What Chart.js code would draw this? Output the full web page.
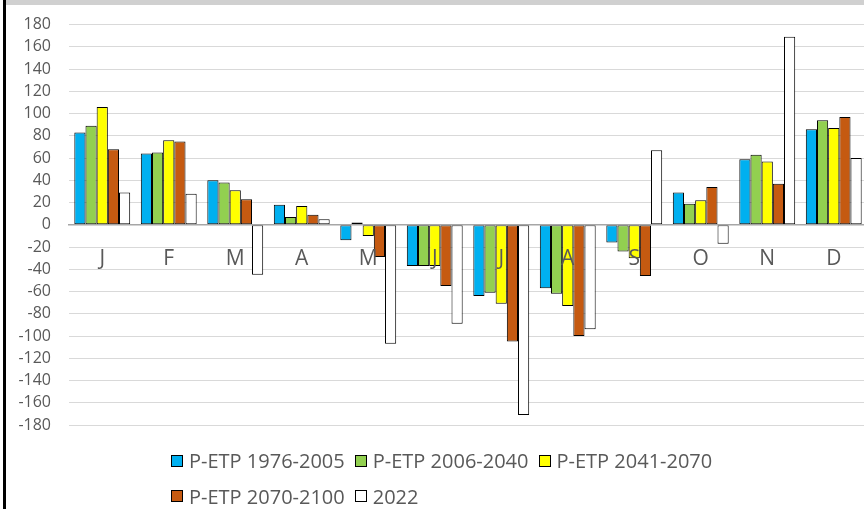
<!DOCTYPE html>
<html>
<head>
<meta charset="utf-8">
<script src="https://cdn.jsdelivr.net/npm/chart.js@4/dist/chart.umd.min.js"></script>
<style>
  html, body { margin: 0; padding: 0; background: #fff; overflow: hidden; width: 864px; height: 509px; }
  #border { position: absolute; left: 3px; top: 0; width: 3px; height: 509px; background: #000; }
  #band { position: absolute; left: 6px; top: 0; width: 858px; height: 5px; background: #d0d0d0; }
  #wrap { position: absolute; left: 6px; top: -3px; width: 864px; height: 512px; }
  #legend { position: absolute; left: 171px; top: 443px; font-family: "Open Sans", sans-serif; font-size: 20px; color: #595959; }
  .row { display: flex; height: 35.5px; align-items: center; white-space: nowrap; }
  .item { display: flex; align-items: center; margin-right: 10px; }
  .box { width: 10px; height: 10px; border: 1px solid #000; margin-right: 6px; }
</style>
</head>
<body>
<div id="border"></div>
<div id="band"></div>
<div id="wrap"><canvas id="c"></canvas></div>
<div id="legend"></div>
<script>
const months = ["J","F","M","A","M","J","J","A","S","O","N","D"];
const seriesLabels = ["P-ETP 1976-2005","P-ETP 2006-2040","P-ETP 2041-2070","P-ETP 2070-2100","2022"];
const p1976_2005 = [83, 64, 40, 18, -14, -37, -64, -57, -16, 29, 59, 86];
const p2006_2040 = [89, 65, 38, 7, 2, -37, -61, -62, -24, 19, 63, 94];
const p2041_2070 = [106, 76, 31, 17, -10, -37, -71, -73, -30, 22, 57, 87];
const p2070_2100 = [68, 75, 23, 9, -29, -55, -105, -100, -46, 34, 37, 97];
const y2022 = [29, 28, -45, 5, -107, -89, -171, -94, 67, -17, 169, 60];
const yTicks = [180,160,140,120,100,80,60,40,20,0,-20,-40,-60,-80,-100,-120,-140,-160,-180];

const colors = ["#00B0F0","#92D050","#FFFF00","#C55A11","#FFFFFF"];
const values = [p1976_2005, p2006_2040, p2041_2070, p2070_2100, y2022];

const datasets = values.map((v, i) => ({
  label: seriesLabels[i],
  data: v,
  backgroundColor: colors[i],
  borderColor: "#000000",
  borderWidth: 1,
  borderSkipped: false,
  categoryPercentage: 0.84,
  barPercentage: 1.0
}));

new Chart(document.getElementById("c"), {
  type: "bar",
  data: { labels: months, datasets },
  options: {
    responsive: true,
    maintainAspectRatio: false,
    animation: false,
    layout: { padding: { top: 8, bottom: 84, left: 0, right: 3 } },
    plugins: { legend: { display: false }, tooltip: { enabled: false } },
    scales: {
      x: {
        position: { y: 0 },
        grid: { display: false, drawTicks: false },
        border: { display: true, color: "#a6a6a6", width: 1.5, z: 1 },
        ticks: {
          z: 1,
          padding: 22,
          color: "#595959",
          font: { family: "Open Sans", size: 21 },
          maxRotation: 0,
          autoSkip: false
        }
      },
      y: {
        min: -180,
        max: 180,
        afterBuildTicks: (s) => { s.ticks = yTicks.map(v => ({ value: v })); },
        afterFit: (s) => { s.width = 63; },
        grid: { color: "#d9d9d9", lineWidth: 1, drawTicks: false },
        border: { display: false },
        ticks: {
          padding: 18,
          color: "#595959",
          font: { family: "Open Sans", size: 16 }
        }
      }
    }
  }
});

const legend = document.getElementById("legend");
const rows = [[0,1,2],[3,4]];
rows.forEach(r => {
  const row = document.createElement("div");
  row.className = "row";
  r.forEach(i => {
    const it = document.createElement("div");
    it.className = "item";
    const b = document.createElement("div");
    b.className = "box";
    b.style.background = colors[i];
    const t = document.createElement("span");
    t.textContent = seriesLabels[i];
    it.appendChild(b); it.appendChild(t);
    row.appendChild(it);
  });
  legend.appendChild(row);
});
</script>
</body>
</html>
